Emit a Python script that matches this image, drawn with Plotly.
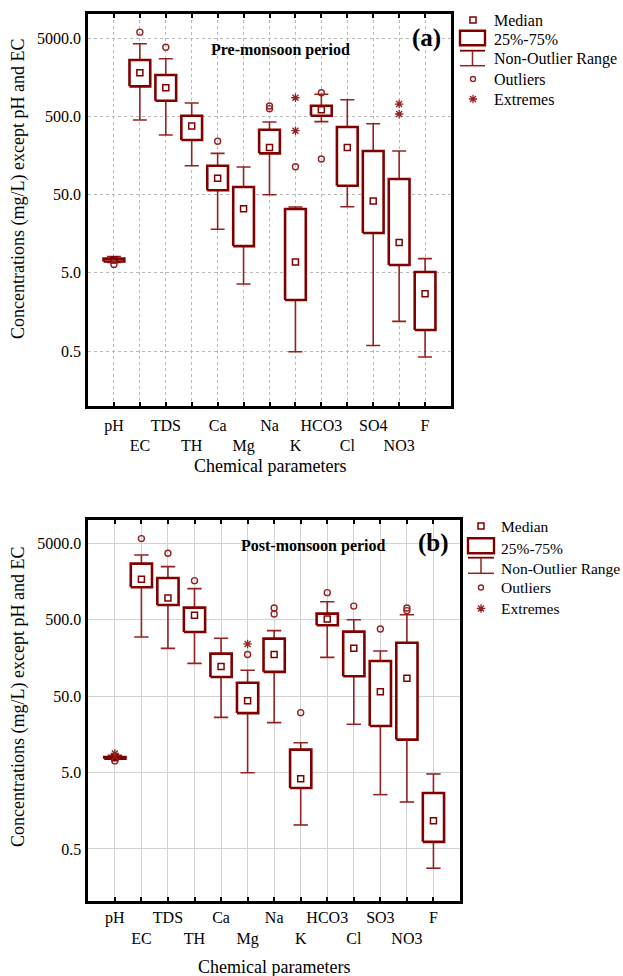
import plotly.graph_objects as go

# ---------------- data ----------------
cats_pre = ["pH", "EC", "TDS", "TH", "Ca", "Mg", "Na", "K", "HCO3", "Cl", "SO4", "NO3", "F"]
cats_post = ["pH", "EC", "TDS", "TH", "Ca", "Mg", "Na", "K", "HCO3", "Cl", "SO3", "NO3", "F"]

# Pre-monsoon
pre_low = [6.8, 451, 290, 117, 18.1, 3.6, 50, 0.49, 430, 35, 0.59, 1.2, 0.42]
pre_q1 = [7.0, 1216, 796, 250, 57, 11.0, 169, 2.25, 512, 65, 16.2, 6.3, 0.93]
pre_med = [7.3, 1815, 1167, 378, 81, 33, 200, 6.9, 611, 200, 41.5, 12.2, 2.71]
pre_q3 = [7.6, 2640, 1698, 512, 117, 62.7, 339, 32.8, 687, 367, 181, 79.4, 5.14]
pre_high = [8.1, 4270, 2740, 745, 169, 113, 425, 34.8, 961, 820, 404, 181, 7.6]
pre_out = [[6.4], [6000], [3840], [], [241], [], [681, 630], [114], [1007, 143], [], [], [], []]
pre_ext = [[], [], [], [], [], [], [], [869, 329], [], [], [], [722, 538], []]

# Post-monsoon
post_low = [7.5, 297, 211, 134, 26.4, 4.98, 22.5, 1.03, 161, 21.4, 2.57, 2.06, 0.28]
post_q1 = [7.6, 1328, 780, 345, 89, 30, 104, 3.14, 423, 91, 20.3, 13.5, 0.62]
post_med = [7.8, 1690, 962, 571, 122, 43.6, 175, 4.16, 511, 211, 57, 85.5, 1.17]
post_q3 = [8.0, 2710, 1760, 720, 180, 75, 283, 9.97, 600, 349, 144, 250, 2.70]
post_high = [8.4, 3520, 2480, 1276, 286, 109, 360, 12.3, 861, 499, 195, 582, 4.79]
post_out = [[7.1], [5760], [3700], [1622], [], [175], [712, 595], [30.4], [1130], [754], [378], [712, 658], []]
post_ext = [[8.9], [], [], [], [], [241], [], [], [], [], [], [], []]

ytick_vals = [0.5, 5, 50, 500, 5000]
ytick_text = ["0.5", "5.0", "50.0", "500.0", "5000.0"]

# ---------------- style ----------------
W, H = 623, 976
BOX_C = "#800000"
WH_C = "#952222"
FONT = "Liberation Serif"
BOX_HW = 0.40
CAP_HW = 0.27

fig = go.Figure()


def add_panel(xa, ya, cats, low, q1, med, q3, high, outs, exts):
    n = len(cats)
    wx, wy = [], []
    for i in range(n):
        wx += [i, i, None, i - CAP_HW, i + CAP_HW, None, i - CAP_HW, i + CAP_HW, None]
        wy += [low[i], high[i], None, low[i], low[i], None, high[i], high[i], None]
    fig.add_trace(go.Scatter(x=wx, y=wy, mode="lines", xaxis=xa, yaxis=ya,
                             line=dict(color=WH_C, width=1.6), hoverinfo="skip"))
    bx, by = [], []
    for i in range(n):
        bx += [i - BOX_HW, i + BOX_HW, i + BOX_HW, i - BOX_HW, i - BOX_HW, None]
        by += [q1[i], q1[i], q3[i], q3[i], q1[i], None]
    fig.add_trace(go.Scatter(x=bx, y=by, mode="lines", xaxis=xa, yaxis=ya, fill="toself",
                             fillcolor="white", line=dict(color=BOX_C, width=2.6),
                             hoverinfo="skip"))
    fig.add_trace(go.Scatter(x=list(range(n)), y=med, mode="markers", xaxis=xa, yaxis=ya,
                             marker=dict(symbol="square-open", size=6, color=BOX_C,
                                         line=dict(width=1.5, color=BOX_C))))
    ox, oy = [], []
    for i, vals in enumerate(outs):
        for v in vals:
            ox.append(i)
            oy.append(v)
    fig.add_trace(go.Scatter(x=ox, y=oy, mode="markers", xaxis=xa, yaxis=ya,
                             marker=dict(symbol="circle-open", size=6, color=WH_C,
                                         line=dict(width=1.4, color=WH_C))))
    ex, ey = [], []
    for i, vals in enumerate(exts):
        for v in vals:
            ex.append(i)
            ey.append(v)
    fig.add_trace(go.Scatter(x=ex, y=ey, mode="markers", xaxis=xa, yaxis=ya,
                             marker=dict(symbol="asterisk-open", size=7, color=WH_C,
                                         line=dict(width=1.3, color=WH_C))))


add_panel("x", "y", cats_pre, pre_low, pre_q1, pre_med, pre_q3, pre_high, pre_out, pre_ext)
add_panel("x2", "y2", cats_post, post_low, post_q1, post_med, post_q3, post_high, post_out, post_ext)


def tick_text(cats):
    return [c if i % 2 == 0 else "<br>" + c for i, c in enumerate(cats)]


def xaxis_cfg(domain, cats, griddash, gridcolor, standoff):
    return dict(domain=domain, range=[-1, 13], tickmode="array", tickvals=list(range(len(cats))),
                ticktext=tick_text(cats), showgrid=True, griddash=griddash, gridcolor=gridcolor,
                gridwidth=1, showline=True, linecolor="black", linewidth=2.5, mirror="ticks",
                ticks="inside", ticklen=4, tickcolor="black", tickwidth=1.5, zeroline=False,
                tickangle=0, tickfont=dict(family=FONT, size=16, color="black"),
                ticklabelstandoff=standoff)


def yaxis_cfg(domain, rng, anchor, griddash, gridcolor):
    return dict(domain=domain, type="log", range=rng, tickmode="array", tickvals=ytick_vals,
                ticktext=ytick_text, showgrid=True, griddash=griddash, gridcolor=gridcolor,
                gridwidth=1, showline=True, linecolor="black", linewidth=2.5, mirror=True,
                ticks="", zeroline=False, anchor=anchor,
                tickfont=dict(family=FONT, size=16, color="black"), ticklabelstandoff=1)


fig.update_layout(
    width=W, height=H, margin=dict(l=0, r=0, t=0, b=0),
    paper_bgcolor="white", plot_bgcolor="rgba(0,0,0,0)", showlegend=False,
    xaxis=xaxis_cfg([88 / W, 451 / W], cats_pre, "dot", "#b8b8b8", 3) | dict(anchor="y"),
    yaxis=yaxis_cfg([1 - 405.7 / H, 1 - 14 / H], [-1.0, 4.01], "x", "dot", "#b8b8b8"),
    xaxis2=xaxis_cfg([88.3 / W, 460 / W], cats_post, "solid", "#d2d2d2", 0) | dict(anchor="y2"),
    yaxis2=yaxis_cfg([1 - 901 / H, 1 - 520 / H], [-0.982, 4.004], "x2", "solid", "#d2d2d2"),
    xaxis3=dict(domain=[0, 1], range=[0, W], visible=False, anchor="y3", fixedrange=True),
    yaxis3=dict(domain=[0, 1], range=[H, 0], visible=False, anchor="x3", fixedrange=True),
)

# ---------------- titles / annotations (pixel coords on overlay axes) ----------------
ann = []


def text(x, y, s, size, bold=False, angle=0, xanchor="center"):
    ann.append(dict(x=x, y=y, xref="x3", yref="y3", text=("<b>%s</b>" % s) if bold else s,
                    showarrow=False, textangle=angle, xanchor=xanchor, yanchor="middle",
                    borderpad=0, font=dict(family=FONT, size=size, color="black")))


text(18, 189, "Concentrations (mg/L) except pH and EC", 18, angle=-90)
text(18, 697, "Concentrations (mg/L) except pH and EC", 18, angle=-90)
text(270, 466, "Chemical parameters", 18)
text(274, 967, "Chemical parameters", 18)
text(280.5, 50, "Pre-monsoon period", 16, bold=True)
text(313, 546, "Post-monsoon period", 16, bold=True)
text(426, 37.5, "(a)", 25, bold=True)
text(433, 542.5, "(b)", 25, bold=True)

# legends
legend_labels = ["Median", "25%-75%", "Non-Outlier Range", "Outliers", "Extremes"]
shapes = []


def legend(sx, tx, rows, rect, wh, fsize):
    for lab, ry in zip(legend_labels, rows):
        text(tx, ry, lab, fsize, xanchor="left")
    shapes.append(dict(type="rect", xref="x3", yref="y3", x0=rect[0], x1=rect[1], y0=rect[2],
                       y1=rect[3], line=dict(color=BOX_C, width=2.4), fillcolor="white"))
    shapes.append(dict(type="line", xref="x3", yref="y3", x0=rect[0], x1=rect[1], y0=wh[0],
                       y1=wh[0], line=dict(color=BOX_C, width=1.8)))
    shapes.append(dict(type="line", xref="x3", yref="y3", x0=(rect[0] + rect[1]) / 2,
                       x1=(rect[0] + rect[1]) / 2, y0=wh[0], y1=wh[1],
                       line=dict(color=WH_C, width=1.5)))
    shapes.append(dict(type="line", xref="x3", yref="y3", x0=rect[0], x1=rect[1], y0=wh[1],
                       y1=wh[1], line=dict(color=WH_C, width=1.5)))
    fig.add_trace(go.Scatter(x=[sx], y=[rows[0]], xaxis="x3", yaxis="y3", mode="markers",
                             marker=dict(symbol="square-open", size=6, color=BOX_C,
                                         line=dict(width=1.5, color=BOX_C))))
    fig.add_trace(go.Scatter(x=[sx], y=[rows[3]], xaxis="x3", yaxis="y3", mode="markers",
                             marker=dict(symbol="circle-open", size=5, color=WH_C,
                                         line=dict(width=1.4, color=WH_C))))
    fig.add_trace(go.Scatter(x=[sx], y=[rows[4]], xaxis="x3", yaxis="y3", mode="markers",
                             marker=dict(symbol="asterisk-open", size=7, color=WH_C,
                                         line=dict(width=1.3, color=WH_C))))


legend(473, 493, [20, 39, 59, 79, 99], (460, 485, 30.7, 45.3), (50.7, 65.7), 16)
legend(481, 500, [526, 548, 568, 587.5, 608.5], (468, 494, 538.3, 553.3), (557.7, 573.3), 15.5)

fig.update_layout(annotations=ann, shapes=shapes)
fig.write_html("out.html", config={"displayModeBar": False},
               post_script="document.body.style.margin='0px';document.body.style.padding='0px';")
